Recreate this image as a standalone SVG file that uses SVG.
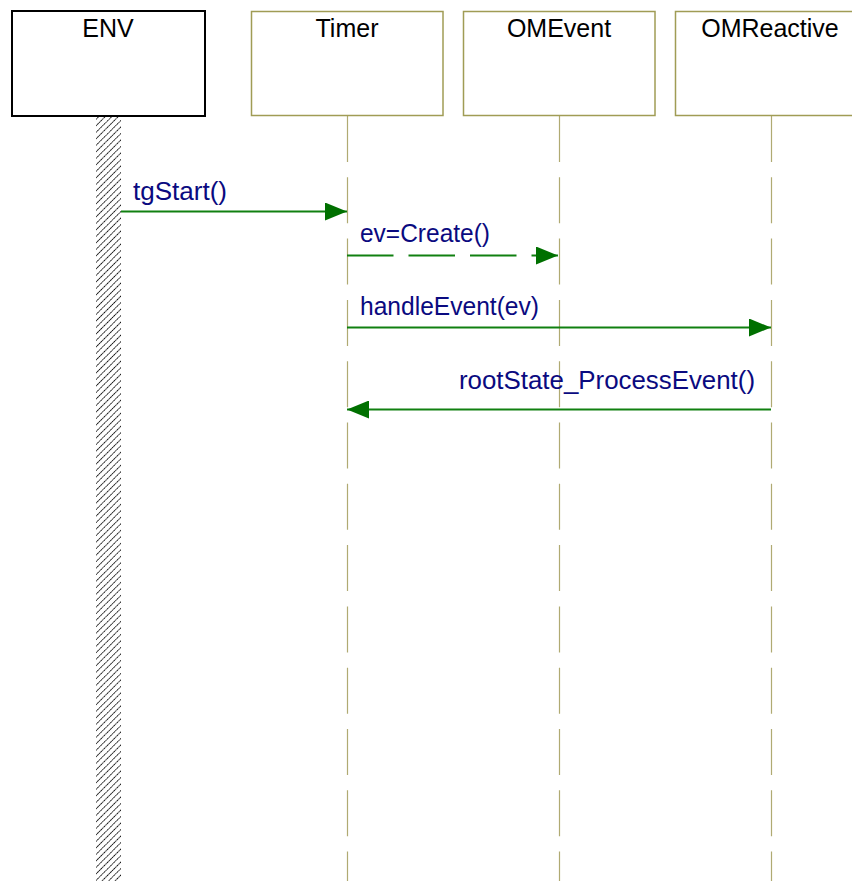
<svg xmlns="http://www.w3.org/2000/svg" width="852" height="881" viewBox="0 0 852 881">
<style>
.box{fill:#fff;stroke:#a09c55;stroke-width:1.5}
.env{fill:#fff;stroke:#000;stroke-width:2}
.title{font-family:"Liberation Sans",Arial,sans-serif;font-size:25px;fill:#000;text-anchor:middle}
.life{stroke:#b0aa72;stroke-width:1.2;stroke-dasharray:46 15.3;fill:none}
.msg{stroke:#108010;stroke-width:2;fill:none}
.dash{stroke-dasharray:46.5 15}
.lbl{font-family:"Liberation Sans",Arial,sans-serif;font-size:25px;fill:#0a0a80}
</style>
<defs>
<pattern id="hatch" patternUnits="userSpaceOnUse" width="4.6" height="4.6" patternTransform="rotate(45 0 0)">
<rect width="4.6" height="4.6" fill="#fff"/>
<line x1="0" y1="0" x2="0" y2="4.6" stroke="#111" stroke-width="1.8" stroke-dasharray="1.2 0.5"/>
</pattern>
<marker id="arr" viewBox="0 0 22 18" refX="22" refY="9" markerWidth="22" markerHeight="18" markerUnits="userSpaceOnUse" orient="auto">
<path d="M0,0 L22,9 L0,18 Z" fill="#007000"/>
</marker>
</defs>
<g id="ENV">
<rect x="96" y="116" width="25" height="765" fill="url(#hatch)"/>
<rect class="env" x="12" y="11" width="193" height="105"/>
<text class="title" x="108" y="37">ENV</text>
</g>
<g id="Timer">
<line class="life" x1="347.5" y1="116" x2="347.5" y2="881"/>
<rect class="box" x="251.5" y="11.5" width="191.5" height="104"/>
<text class="title" x="347" y="37">Timer</text>
</g>
<g id="OMEvent">
<line class="life" x1="559.5" y1="116" x2="559.5" y2="881"/>
<rect class="box" x="463.5" y="11.5" width="191.5" height="104"/>
<text class="title" x="559" y="37">OMEvent</text>
</g>
<g id="OMReactive">
<line class="life" x1="771.5" y1="116" x2="771.5" y2="881"/>
<rect class="box" x="675.5" y="11.5" width="200" height="104"/>
<text class="title" x="770" y="37">OMReactive</text>
</g>
<g id="connectors">
<line class="msg" x1="121" y1="211.5" x2="347" y2="211.5" marker-end="url(#arr)"/>
<text class="lbl" x="133" y="200" textLength="94" lengthAdjust="spacingAndGlyphs">tgStart()</text>
<line class="msg dash" x1="347" y1="255.5" x2="558" y2="255.5" marker-end="url(#arr)"/>
<text class="lbl" x="360" y="242" textLength="130" lengthAdjust="spacingAndGlyphs">ev=Create()</text>
<line class="msg" x1="347" y1="327.5" x2="771" y2="327.5" marker-end="url(#arr)"/>
<text class="lbl" x="360" y="315" textLength="179" lengthAdjust="spacingAndGlyphs">handleEvent(ev)</text>
<line class="msg" x1="771" y1="409.5" x2="347" y2="409.5" marker-end="url(#arr)"/>
<text class="lbl" x="459" y="389" textLength="296" lengthAdjust="spacingAndGlyphs">rootState_ProcessEvent()</text>
</g>
</svg>
